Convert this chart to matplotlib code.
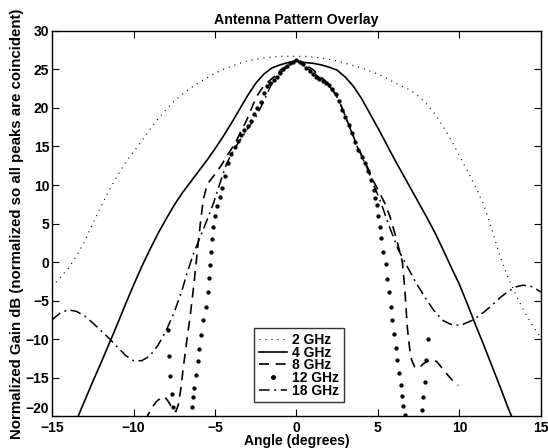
import matplotlib
matplotlib.use("Agg")
import matplotlib.pyplot as plt

plt.rcParams["font.family"] = ["Liberation Sans", "DejaVu Sans"]

# 2 GHz (dotted)
ang_2 = [-15, -14.5, -14, -13.5, -13, -12.5, -12, -11.5, -11, -10.5, -10, -9.5, -9, -8.5, -8,
         -7.5, -7, -6.5, -6, -5.5, -5, -4.5, -4, -3.5, -3, -2.5, -2, -1.5, -1, -0.5, 0,
         0.5, 1, 1.5, 2, 2.5, 3, 3.5, 4, 4.5, 5, 5.5, 6, 6.5, 7, 7.5, 8, 8.5, 9, 9.5, 10,
         10.5, 11, 11.5, 12, 12.5, 13, 13.5, 14, 14.5, 15]
gain_2 = [-3.2, -2.0, -0.8, 0.8, 2.7, 5.0, 7.2, 9.3, 11.2, 12.9, 14.3, 15.7, 17.2, 18.6, 19.8,
          20.9, 21.8, 22.6, 23.3, 23.9, 24.5, 25.0, 25.4, 25.8, 26.1, 26.3, 26.5, 26.6, 26.7, 26.7, 26.7,
          26.7, 26.6, 26.5, 26.3, 26.1, 25.8, 25.5, 25.2, 24.8, 24.4, 23.9, 23.3, 22.8, 22.3, 21.5, 20.5,
          19.2, 17.6, 15.8, 13.8, 11.8, 9.7, 7.4, 4.2, 0.7, -2.1, -4.4, -6.5, -8.3, -9.8]

# 4 GHz (solid)
ang_4 = [-13.5, -13, -12.5, -12, -11.5, -11, -10.5, -10, -9.5, -9, -8.5, -8, -7.5, -7, -6.5, -6,
         -5.5, -5, -4.5, -4, -3.5, -3, -2.5, -2, -1.5, -1, -0.5, 0,
         0.5, 1, 1.5, 2, 2.5, 3, 3.5, 4, 4.5, 5, 5.5, 6, 6.5, 7, 7.5, 8, 8.5, 9, 9.5, 10,
         10.5, 11, 11.5, 12, 12.5, 13, 13.5]
gain_4 = [-20.5, -18.0, -15.5, -13.1, -10.6, -8.1, -5.5, -3.0, -0.6, 1.6, 3.7, 5.6, 7.4, 9.0, 10.4,
          11.8, 13.2, 14.7, 16.3, 18.0, 19.8, 21.6, 23.2, 24.4, 25.2, 25.6, 25.9, 26.1,
          25.9, 25.8, 25.6, 25.3, 24.9, 24.0, 22.8, 21.2, 19.3, 17.4, 15.4, 13.4, 11.5, 9.6, 7.7,
          5.8, 3.8, 1.6, -0.7, -2.9, -5.5, -8.2, -10.8, -13.5, -16.2, -19.0, -21.5]

# 8 GHz (dashed)
ang_8 = [-9.3, -8.9, -8.6, -8.3, -8.07, -7.8, -7.6, -7.4, -7.25, -7.1, -6.94, -6.75, -6.53, -6.3,
         -6.12, -5.9, -5.72, -5.5, -5.3, -5.0, -4.6, -4.2, -3.77, -3.4, -3.06, -2.75, -2.44, -2.1,
         -1.73, -1.4, -1.0, -0.5, 0, 0.5, 1.0, 1.5, 2.0, 2.4, 2.7, 3.1, 3.7, 4.3, 4.7, 5.1, 5.43,
         5.74, 6.15, 6.5, 6.65, 6.8, 6.95, 7.07, 7.25, 7.4, 7.6, 7.78, 8.1, 8.4, 8.6, 8.8, 9.3, 9.6, 9.93]
gain_8 = [-20.6, -19.0, -18.1, -17.6, -17.5, -18.3, -19.2, -19.4, -18.5, -16.5, -13.6, -10.5, -7.1,
          -3.0, 0.7, 5.0, 8.1, 9.9, 10.6, 11.4, 12.6, 14.0, 15.4, 17.0, 18.4, 20.0, 21.5, 22.6,
          23.4, 24.0, 24.6, 25.4, 26.2, 25.6, 25.0, 24.0, 23.1, 21.8, 20.5, 18.4, 15.2, 12.6, 10.6,
          9.0, 7.6, 5.9, 2.9, 0.0, -3.5, -8.4, -11.3, -12.7, -13.6, -13.8, -13.6, -13.2, -12.8,
          -12.7, -12.9, -13.4, -14.7, -15.4, -16.0]

# 12 GHz (point markers)
ang_12 = [-7.86, -7.8, -7.76, -7.66, -7.56,
          -6.43, -6.37, -6.29, -6.17, -6.06, -5.96, -5.86, -5.72, -5.57, -5.45, -5.37, -5.31,
          -5.25, -5.17, -5.1, -5.0, -4.86, -4.69, -4.59,
          -4.4, -4.2, -4.0, -3.8, -3.6, -3.4, -3.2, -3.0, -2.8, -2.6, -2.4, -2.2, -2.0, -1.8, -1.6,
          -1.4, -1.2, -1.0, -0.8, -0.6, -0.4, -0.2, 0,
          0.2, 0.4, 0.6, 0.8, 1.0, 1.2, 1.4, 1.6, 1.8, 2.0, 2.2, 2.4, 2.6, 2.8, 3.0, 3.2, 3.4,
          3.6, 3.8, 4.0, 4.2, 4.4, 4.6, 4.75, 4.85, 4.92, 5.0, 5.1, 5.2,
          5.33, 5.47, 5.57, 5.67, 5.78, 5.88, 5.98, 6.08, 6.18, 6.29, 6.39, 6.47, 6.55, 6.66,
          7.68, 7.78, 7.88, 7.96, 8.05]
gain_12 = [-8.8, -12.2, -14.8, -17.1, -18.8,
           -18.8, -17.5, -16.4, -14.7, -12.9, -11.3, -9.5, -7.5, -5.8, -3.9, -2.1, -0.4,
           1.3, 3.0, 4.6, 6.0, 7.3, 8.5, 9.6,
           11.2, 12.8, 14.0, 14.9, 15.7, 16.5, 17.2, 17.7, 18.3, 19.2, 20.0, 20.8, 22.0, 22.8, 23.3,
           23.6, 24.0, 24.6, 25.1, 25.5, 25.8, 26.0, 26.2,
           26.0, 25.7, 25.2, 24.8, 24.4, 24.0, 23.7, 23.5, 23.3, 23.0, 22.5, 21.8, 20.9, 19.8, 18.8,
           17.8, 16.7, 15.6, 14.6, 13.7, 12.8, 11.8, 10.7, 9.3, 8.3, 7.4, 6.0, 4.6, 3.1,
           1.3, -0.3, -2.2, -3.9, -5.8, -7.5, -9.3, -11.1, -12.7, -14.4, -16.0, -17.4, -18.7, -19.9,
           -19.2, -17.5, -15.5, -12.7, -10.0]

# 18 GHz (dash-dot)
ang_18 = [-15, -14.5, -14, -13.5, -13, -12.5, -12, -11.5, -11, -10.5, -10, -9.5, -9, -8.5, -8,
          -7.5, -7, -6.7, -6.3, -5.9, -5.5, -5.1, -4.7, -4.3, -3.9, -3.5, -3.0, -2.5, -2.0, -1.6,
          -1.0, -0.5, 0, 0.5, 1.0, 1.5, 2.0, 2.4, 2.7, 3.1, 3.7, 4.3, 4.7, 5.12, 5.63, 6.25, 6.8,
          7.37, 7.9, 8.4, 9.0, 9.6, 10.2, 10.85, 11.5, 12.0, 12.5, 13.0, 13.5, 13.9, 14.5, 15.0]
gain_18 = [-7.5, -6.6, -6.2, -6.4, -7.0, -7.9, -8.9, -9.9, -11.0, -12.1, -12.8, -12.8, -12.2, -10.8,
           -8.9, -6.5, -3.5, -1.3, 1.2, 3.3, 5.4, 7.6, 10.2, 12.7, 14.4, 15.7, 17.3, 18.8, 20.9, 22.8,
           24.9, 25.6, 26.2, 25.4, 24.6, 23.8, 22.9, 21.7, 20.5, 18.4, 15.1, 12.4, 10.2, 8.1, 5.0, 1.6,
           -0.6, -2.8, -4.6, -6.2, -7.6, -8.2, -8.1, -7.5, -6.5, -5.6, -4.6, -3.8, -3.2, -3.0, -3.2, -3.9]

fig = plt.figure(figsize=(5.48, 4.48), dpi=100)
ax = fig.add_axes([0.095, 0.071, 0.892, 0.860])

ax.plot(ang_2, gain_2, color="black", linewidth=0.9, linestyle=(0, (0.8, 4.0)), label="2 GHz")
ax.plot(ang_4, gain_4, color="black", linewidth=1.2, linestyle="-", label="4 GHz")
ax.plot(ang_8, gain_8, color="black", linewidth=1.2, linestyle=(0, (6, 4)), label="8 GHz")
ax.plot(ang_12, gain_12, color="black", linestyle="none", marker="o", markersize=2.1, label="12 GHz")
ax.plot(ang_18, gain_18, color="black", linewidth=1.1, linestyle=(0, (7, 3, 1.2, 3)), label="18 GHz")

ax.set_xlim(-15, 15)
ax.set_ylim(-20, 30)
ax.set_xticks(range(-15, 16, 5))
ax.set_yticks(range(-20, 31, 5))
ax.tick_params(direction="in", top=True, right=True, length=5, labelsize=10)
ax.tick_params(axis="x", pad=3.5)
ax.tick_params(axis="y", pad=2)
for lab in ax.get_xticklabels() + ax.get_yticklabels():
    lab.set_fontweight("bold")
# lift the lowest y label a little so it clears the first x label
ax.get_yticklabels()[0].set_verticalalignment("bottom")
for sp in ax.spines.values():
    sp.set_linewidth(1.0)

ax.set_title("Antenna Pattern Overlay", fontsize=10.2, fontweight="bold", pad=5)
ax.set_xlabel("Angle (degrees)", fontsize=10, fontweight="bold", labelpad=-1)
ax.set_ylabel("Normalized Gain dB (normalized so all peaks are coincident)", fontsize=10.8,
              fontweight="bold", labelpad=1)

leg = ax.legend(loc="lower center", bbox_to_anchor=(0.505, 0.025), fontsize=10,
                frameon=True, fancybox=False, edgecolor="black", handlelength=2.0,
                handletextpad=0.4, labelspacing=-0.1, borderpad=0.35, borderaxespad=0.3,
                markerscale=1.2)
leg.get_frame().set_linewidth(1.0)
for t in leg.get_texts():
    t.set_fontweight("bold")

fig.savefig("out.png", dpi=100)
